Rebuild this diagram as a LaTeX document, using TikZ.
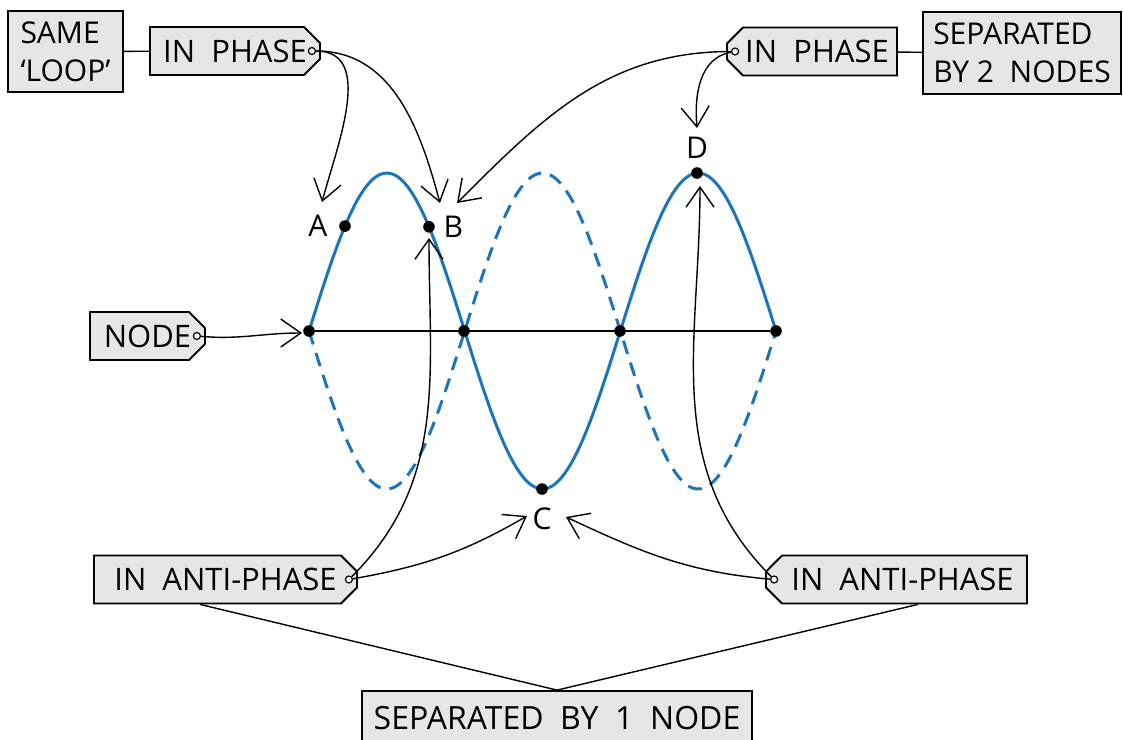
\documentclass[tikz,border=0pt]{standalone}
\usepackage{fontspec}
\setmainfont{Open Sans}
\usetikzlibrary{arrows.meta,positioning,shapes.misc,calc}
\definecolor{waveblue}{RGB}{28,117,188}
\definecolor{tagfill}{RGB}{230,230,230}

\begin{document}
\begin{tikzpicture}[x=0.5pt, y=0.5pt,
  lbox/.style={draw, line width=0.9pt, fill=tagfill, align=left, inner sep=0pt, font=\fontsize{15}{19}\selectfont},
  tag/.style={draw, line width=0.9pt, fill=tagfill, chamfered rectangle, chamfered rectangle xsep=4pt, chamfered rectangle ysep=4pt, inner sep=0pt, minimum height=24pt, font=\fontsize{15.5}{18}\selectfont},
  tagr/.style={tag, chamfered rectangle corners={north east,south east}},
  tagl/.style={tag, chamfered rectangle corners={north west,south west}},
  hole/.style={circle, draw, fill=white, line width=0.6pt, inner sep=0pt, minimum size=3.5pt},
  dot/.style={circle, fill=black, inner sep=0pt, minimum size=5.8pt},
  letter/.style={inner sep=0pt, font=\fontsize{15}{18}\selectfont},
  wave/.style={waveblue, line width=1.5pt, domain=309:776, samples=120, smooth},
  arr/.style={-{Straight Barb[length=10pt,width=14pt]}, line width=0.7pt},
  link/.style={line width=0.7pt}
]
\useasboundingbox (0,0) rectangle (1123,-739);

% standing wave
\draw[wave] plot (\x, {-331+158*sin((\x-309)/155.67*180)});
\draw[wave, dash pattern=on 7pt off 4.5pt] plot (\x, {-331-158*sin((\x-309)/155.67*180)});

\node[dot] (n1) at (309,-331) {};
\node[dot] (n2) at (464,-331) {};
\node[dot] (n3) at (620,-331) {};
\node[dot] (n4) at (776,-331) {};
\draw[line width=1pt] (n1) -- (n4);

\node[dot] (ptA) at (345,{-331+158*sin(36/155.67*180)}) {};
\node[dot] (ptB) at (429,{-331+158*sin(120/155.67*180)}) {};
\node[dot] (ptC) at (542,-489) {};
\node[dot] (ptD) at (697,-173) {};
\node[letter, left=5.5pt of ptA] {A};
\node[letter, right=4pt of ptB] {B};
\node[letter, below=6pt of ptC] {C};
\node[letter, above=4pt of ptD] {D};

% labels
\node[lbox, minimum width=57.5pt, minimum height=40.5pt] (same) at (65.5,-51.5) {SAME\\‘LOOP’};
\node[tagr, minimum width=85pt] (lphase) at (235,-51) {IN~~PHASE\hspace{5pt}};
\node[tagl, minimum width=85pt] (rphase) at (812,-51.5) {\hspace{5pt}IN~~PHASE};
\node[lbox, minimum width=99pt, minimum height=41pt] (sep2) at (1022,-53) {SEPARATED\\BY~2~~NODES};
\node[tagr, minimum width=57.5pt] (nodetag) at (147.5,-336) {NODE\hspace{6pt}};
\node[tagr, minimum width=131.5pt] (lanti) at (225.5,-579.5) {IN~~ANTI-PHASE\hspace{6pt}};
\node[tagl, minimum width=130.5pt] (ranti) at (896.5,-579.5) {\hspace{6pt}IN~~ANTI-PHASE};
\node[lbox, align=center, minimum width=195pt, minimum height=27pt] (sep1) at (557,-718) {\fontsize{16}{19}\selectfont SEPARATED~~BY~~1~~NODE};

\node[hole] (lph) at ([xshift=-4.5pt]lphase.east) {};
\node[hole] (rph) at ([xshift=4.5pt]rphase.west) {};
\node[hole] (nh) at ([xshift=-4.5pt]nodetag.east) {};
\node[hole] (lah) at ([xshift=-4.5pt]lanti.east) {};
\node[hole] (rah) at ([xshift=4.5pt]ranti.west) {};

\coordinate (tA) at (322,-202);
\coordinate (tBl) at (440,-203);
\coordinate (tBr) at (457,-203);
\coordinate (tD) at (697,-128);
\coordinate (tN) at (302,-333);
\coordinate (tBu) at (429,-238);
\coordinate (tDu) at (700,-186);
\coordinate (tCl) at (527,-516);
\coordinate (tCr) at (566,-517);

\draw[link] (same) -- (lphase);
\draw[link] (rphase) -- (sep2);
\draw[link] ([xshift=-12.75pt]lanti.south) -- (sep1.north);
\draw[link] ([xshift=10.75pt]ranti.south) -- (sep1.north);

\draw[arr] (lph) to[out=0, in=75] (tA);
\draw[arr] (lph) to[out=0, in=105] (tBl);
\draw[arr] (rph) to[out=180, in=45] (tBr);
\draw[arr] (rph) to[out=190, in=95] (tD);
\draw[arr] (nh) to[out=-5, in=180] (tN);
\draw[arr] (lah) to[out=45, in=-90] (tBu);
\draw[arr] (lah) to[out=10, in=210] (tCl);
\draw[arr] (rah) to[out=135, in=-90] (tDu);
\draw[arr] (rah) to[out=175, in=-25] (tCr);
\end{tikzpicture}
\end{document}
